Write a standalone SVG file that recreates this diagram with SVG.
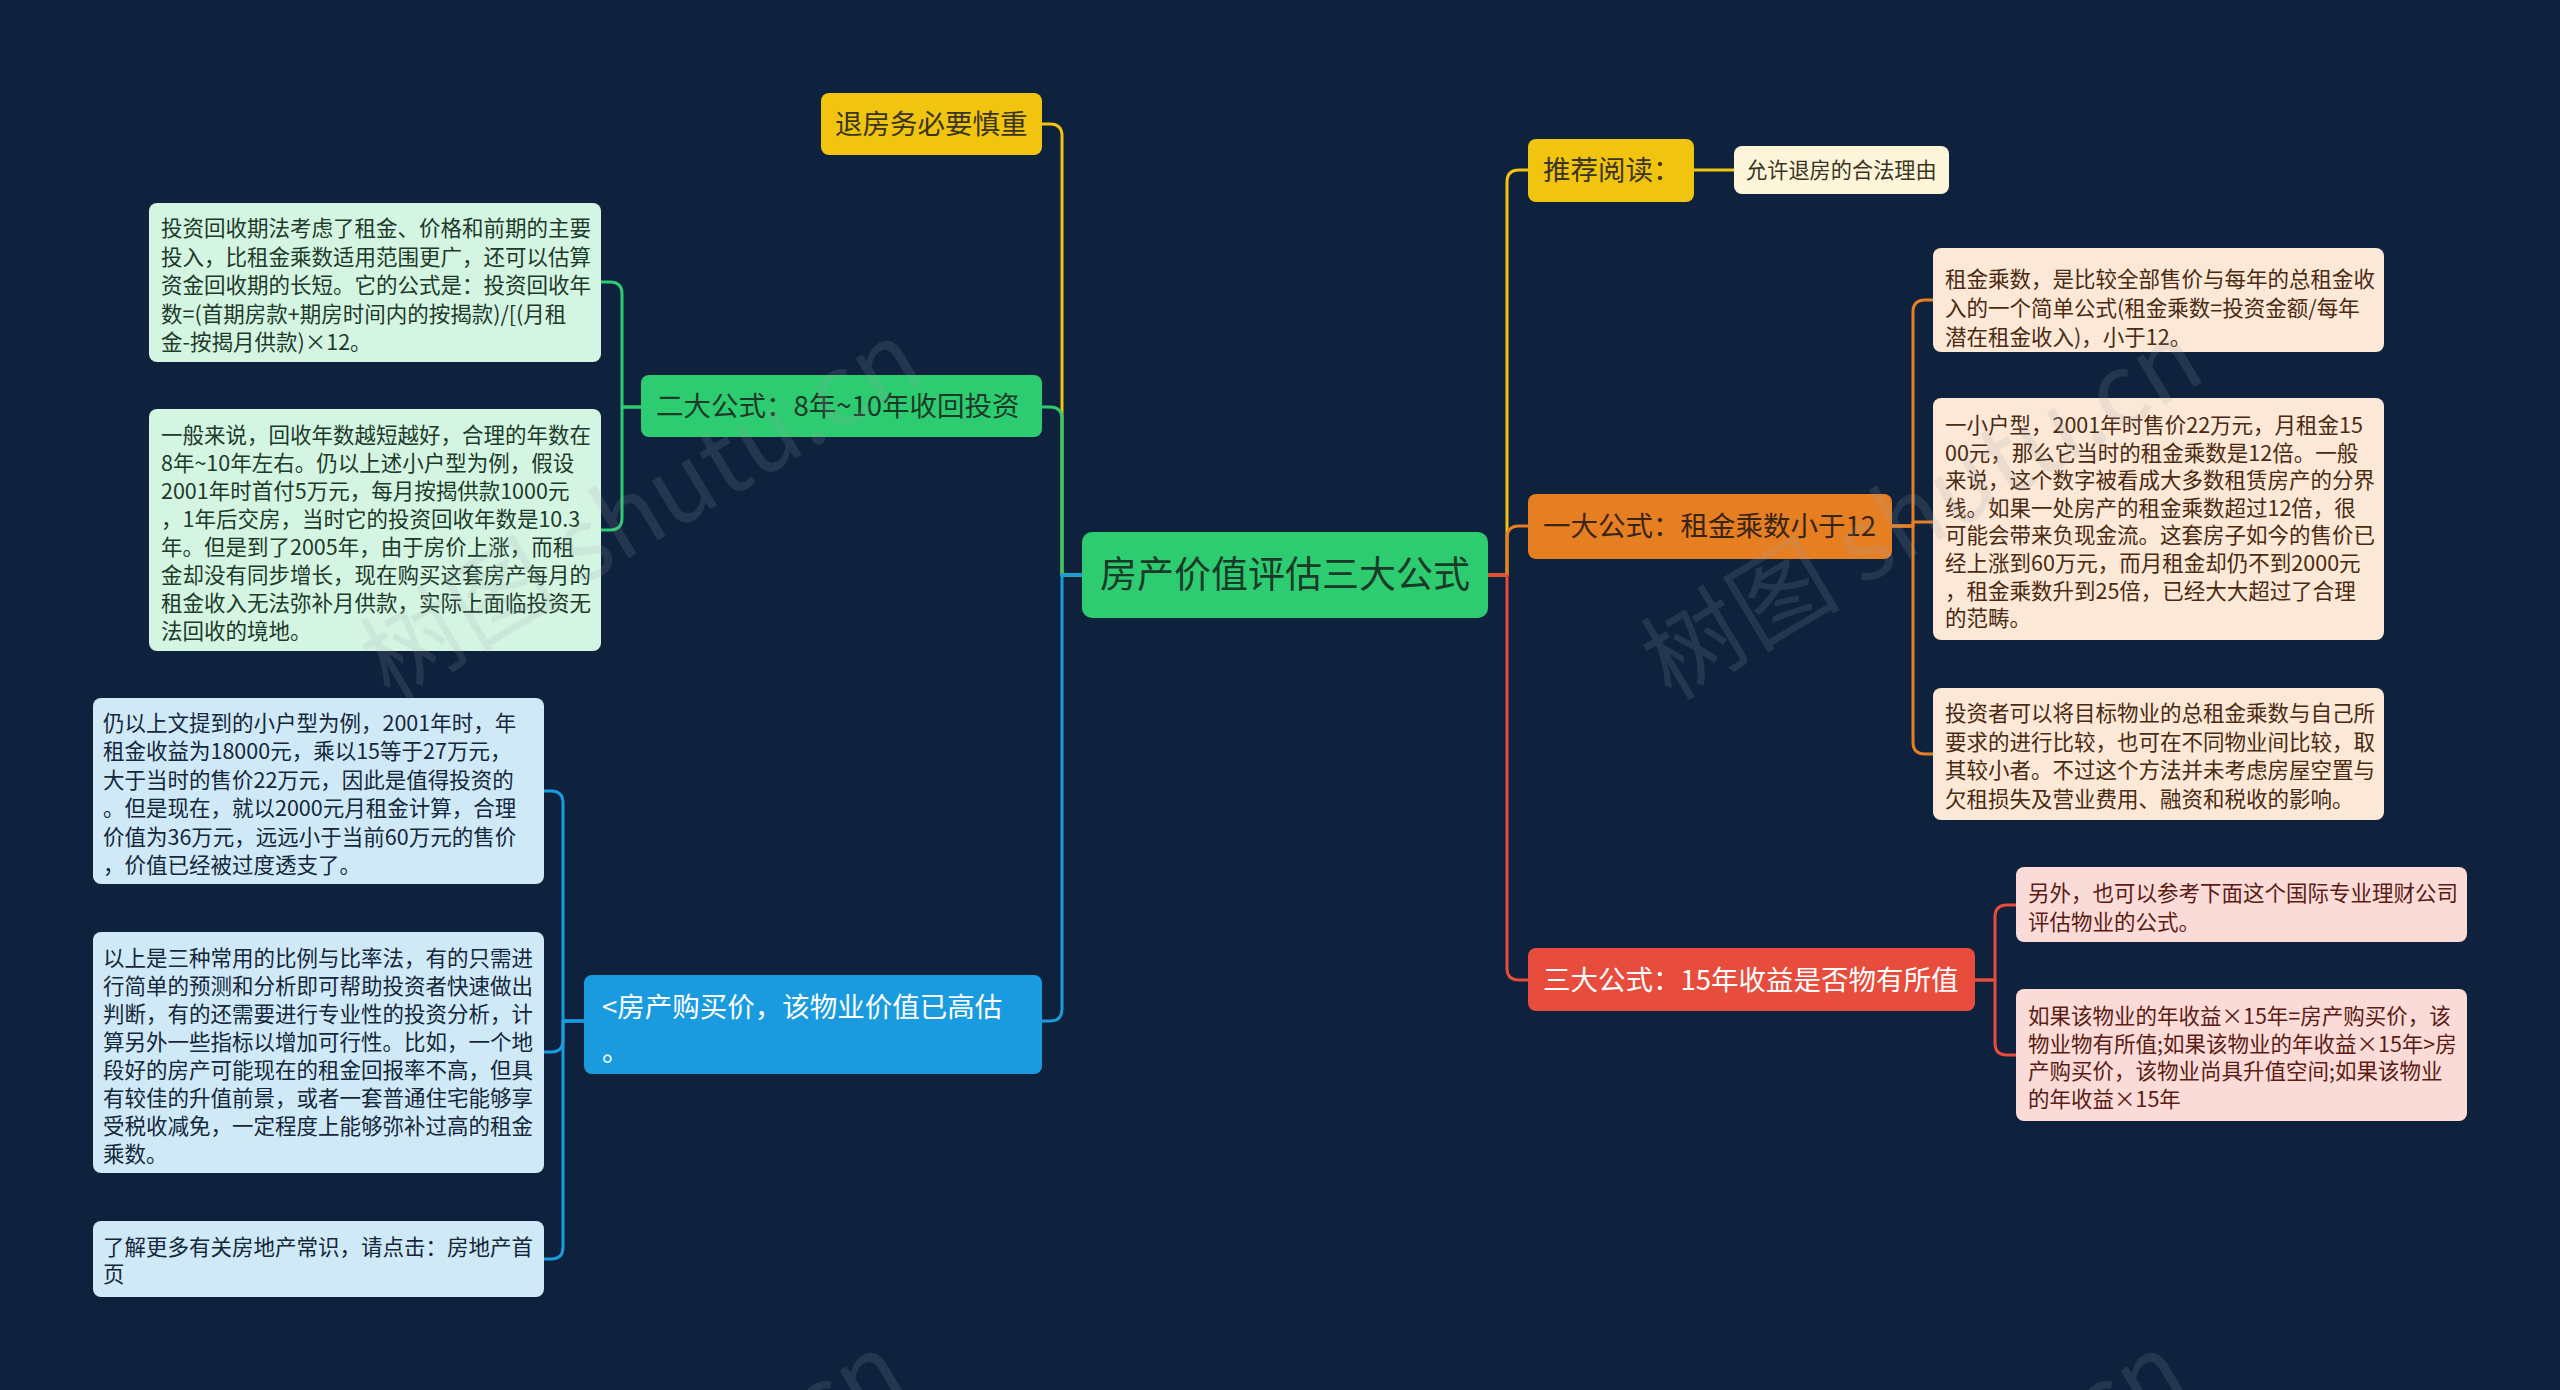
<svg xmlns="http://www.w3.org/2000/svg" width="2560" height="1390" viewBox="0 0 2560 1390">
<style>
text{font-family:"Noto Sans CJK SC","Noto Sans",sans-serif;}
.conn{fill:none;stroke-width:3;stroke-linejoin:round;stroke-linecap:round;}
.main{font-size:27.5px;}
.small{font-size:21.5px;}
.wm{font-size:100px;fill:#9aa3ad;opacity:0.16;}
</style>
<rect x="0" y="0" width="2560" height="1390" fill="#0f223d"/>

<g id="connectors">
  <path class="conn" stroke="#f1c40f" d="M1082,575 H1062 V136 Q1062,124 1050,124 H1042"/>
  <path class="conn" stroke="#2ecc71" d="M1082,575 H1062 V419 Q1062,407 1050,407 H1042"/>
  <path class="conn" stroke="#1a9be0" d="M1082,575 H1062 V1009 Q1062,1021 1050,1021 H1042"/>
  <path class="conn" stroke="#f1c40f" d="M1488,575 H1507 V182 Q1507,170 1519,170 H1528"/>
  <path class="conn" stroke="#e67e22" d="M1488,575 H1507 V538 Q1507,526 1519,526 H1528"/>
  <path class="conn" stroke="#e74c3c" d="M1488,575 H1507 V968 Q1507,980 1519,980 H1528"/>
  <path class="conn" stroke="#f1c40f" d="M1694,170 H1734"/>
  <path class="conn" stroke="#e67e22" d="M1892,526 H1913 V312 Q1913,300 1925,300 H1933"/>
  <path class="conn" stroke="#e67e22" d="M1892,526 H1913 V522 H1933"/>
  <path class="conn" stroke="#e67e22" d="M1892,526 H1913 V742 Q1913,754 1925,754 H1933"/>
  <path class="conn" stroke="#e74c3c" d="M1975,980 H1995 V917 Q1995,905 2007,905 H2016"/>
  <path class="conn" stroke="#e74c3c" d="M1975,980 H1995 V1043 Q1995,1055 2007,1055 H2016"/>
  <path class="conn" stroke="#2ecc71" d="M641,407 H622 V294 Q622,282 610,282 H601"/>
  <path class="conn" stroke="#2ecc71" d="M641,407 H622 V518 Q622,530 610,530 H601"/>
  <path class="conn" stroke="#1a9be0" d="M584,1021 H563 V803 Q563,791 551,791 H544"/>
  <path class="conn" stroke="#1a9be0" d="M584,1021 H563 V1040 Q563,1052 551,1052 H544"/>
  <path class="conn" stroke="#1a9be0" d="M584,1021 H563 V1247 Q563,1259 551,1259 H544"/>
</g>

<g id="root">
  <rect x="1082" y="532" width="406" height="86" rx="10" fill="#2ecc71"/>
  <text x="1285" y="588" font-size="37" text-anchor="middle" fill="#1a3a28">房产价值评估三大公式</text>
</g>

<g id="n-tuifang">
  <rect x="821" y="93" width="221" height="62" rx="8" fill="#f1c40f"/>
  <text class="main" x="835" y="134" fill="#3a3522">退房务必要慎重</text>
</g>

<g id="n-erda">
  <rect x="641" y="375" width="401" height="62" rx="8" fill="#2ecc71"/>
  <text class="main" x="656" y="416" fill="#1a3a28">二大公式：8年~10年收回投资</text>
</g>

<g id="n-fangchan">
  <rect x="584" y="975" width="458" height="99" rx="8" fill="#1a9be0"/>
  <text class="main" x="602" y="1017" fill="#ffffff">&lt;房产购买价，该物业价值已高估</text>
  <text class="main" x="602" y="1061" fill="#ffffff">。</text>
</g>

<g id="n-g1">
  <rect x="149" y="203" width="452" height="159" rx="8" fill="#d5f5e3"/>
  <text class="small" fill="#1d3a2a">
    <tspan x="161" y="236">投资回收期法考虑了租金、价格和前期的主要</tspan>
    <tspan x="161" y="264.5">投入，比租金乘数适用范围更广，还可以估算</tspan>
    <tspan x="161" y="293">资金回收期的长短。它的公式是：投资回收年</tspan>
    <tspan x="161" y="321.5">数=(首期房款+期房时间内的按揭款)/[(月租</tspan>
    <tspan x="161" y="350">金-按揭月供款)×12。</tspan>
  </text>
</g>

<g id="n-g2">
  <rect x="149" y="409" width="452" height="242" rx="8" fill="#d5f5e3"/>
  <text class="small" fill="#1d3a2a">
    <tspan x="161" y="443">一般来说，回收年数越短越好，合理的年数在</tspan>
    <tspan x="161" y="471">8年~10年左右。仍以上述小户型为例，假设</tspan>
    <tspan x="161" y="499">2001年时首付5万元，每月按揭供款1000元</tspan>
    <tspan x="161" y="527">，1年后交房，当时它的投资回收年数是10.3</tspan>
    <tspan x="161" y="555">年。但是到了2005年，由于房价上涨，而租</tspan>
    <tspan x="161" y="583">金却没有同步增长，现在购买这套房产每月的</tspan>
    <tspan x="161" y="611">租金收入无法弥补月供款，实际上面临投资无</tspan>
    <tspan x="161" y="639">法回收的境地。</tspan>
  </text>
</g>

<g id="n-b1">
  <rect x="93" y="698" width="451" height="186" rx="8" fill="#cfe9f7"/>
  <text class="small" fill="#15273a">
    <tspan x="103" y="731">仍以上文提到的小户型为例，2001年时，年</tspan>
    <tspan x="103" y="759.4">租金收益为18000元，乘以15等于27万元，</tspan>
    <tspan x="103" y="787.8">大于当时的售价22万元，因此是值得投资的</tspan>
    <tspan x="103" y="816.2">。但是现在，就以2000元月租金计算，合理</tspan>
    <tspan x="103" y="844.6">价值为36万元，远远小于当前60万元的售价</tspan>
    <tspan x="103" y="873">，价值已经被过度透支了。</tspan>
  </text>
</g>

<g id="n-b2">
  <rect x="93" y="932" width="451" height="241" rx="8" fill="#cfe9f7"/>
  <text class="small" fill="#15273a">
    <tspan x="103" y="966">以上是三种常用的比例与比率法，有的只需进</tspan>
    <tspan x="103" y="994">行简单的预测和分析即可帮助投资者快速做出</tspan>
    <tspan x="103" y="1022">判断，有的还需要进行专业性的投资分析，计</tspan>
    <tspan x="103" y="1050">算另外一些指标以增加可行性。比如，一个地</tspan>
    <tspan x="103" y="1078">段好的房产可能现在的租金回报率不高，但具</tspan>
    <tspan x="103" y="1106">有较佳的升值前景，或者一套普通住宅能够享</tspan>
    <tspan x="103" y="1134">受税收减免，一定程度上能够弥补过高的租金</tspan>
    <tspan x="103" y="1162">乘数。</tspan>
  </text>
</g>

<g id="n-b3">
  <rect x="93" y="1221" width="451" height="76" rx="8" fill="#cfe9f7"/>
  <text class="small" fill="#15273a">
    <tspan x="103" y="1255">了解更多有关房地产常识，请点击：房地产首</tspan>
    <tspan x="103" y="1282">页</tspan>
  </text>
</g>

<g id="n-tuijian">
  <rect x="1528" y="139" width="166" height="63" rx="8" fill="#f1c40f"/>
  <text class="main" x="1543" y="180" fill="#3a3522">推荐阅读：</text>
</g>

<g id="n-yunxu">
  <rect x="1734" y="146" width="215" height="48" rx="8" fill="#fdf5d9"/>
  <text x="1746" y="178" font-size="21.2" fill="#3a3522">允许退房的合法理由</text>
</g>

<g id="n-yida">
  <rect x="1528" y="494" width="364" height="65" rx="8" fill="#e67e22"/>
  <text class="main" x="1543" y="536" fill="#3a2414">一大公式：租金乘数小于12</text>
</g>

<g id="n-o1">
  <rect x="1933" y="248" width="451" height="104" rx="8" fill="#fbe8d6"/>
  <text class="small" fill="#4a2a12">
    <tspan x="1945" y="287">租金乘数，是比较全部售价与每年的总租金收</tspan>
    <tspan x="1945" y="316">入的一个简单公式(租金乘数=投资金额/每年</tspan>
    <tspan x="1945" y="345">潜在租金收入)，小于12。</tspan>
  </text>
</g>

<g id="n-o2">
  <rect x="1933" y="398" width="451" height="242" rx="8" fill="#fbe8d6"/>
  <text class="small" fill="#4a2a12">
    <tspan x="1945" y="433">一小户型，2001年时售价22万元，月租金15</tspan>
    <tspan x="1945" y="460.6">00元，那么它当时的租金乘数是12倍。一般</tspan>
    <tspan x="1945" y="488.2">来说，这个数字被看成大多数租赁房产的分界</tspan>
    <tspan x="1945" y="515.8">线。如果一处房产的租金乘数超过12倍，很</tspan>
    <tspan x="1945" y="543.4">可能会带来负现金流。这套房子如今的售价已</tspan>
    <tspan x="1945" y="571">经上涨到60万元，而月租金却仍不到2000元</tspan>
    <tspan x="1945" y="598.6">，租金乘数升到25倍，已经大大超过了合理</tspan>
    <tspan x="1945" y="626.2">的范畴。</tspan>
  </text>
</g>

<g id="n-o3">
  <rect x="1933" y="688" width="451" height="132" rx="8" fill="#fbe8d6"/>
  <text class="small" fill="#4a2a12">
    <tspan x="1945" y="721">投资者可以将目标物业的总租金乘数与自己所</tspan>
    <tspan x="1945" y="749.7">要求的进行比较，也可在不同物业间比较，取</tspan>
    <tspan x="1945" y="778.4">其较小者。不过这个方法并未考虑房屋空置与</tspan>
    <tspan x="1945" y="807">欠租损失及营业费用、融资和税收的影响。</tspan>
  </text>
</g>

<g id="n-sanda">
  <rect x="1528" y="948" width="447" height="63" rx="8" fill="#e74c3c"/>
  <text class="main" x="1543" y="990" fill="#ffffff">三大公式：15年收益是否物有所值</text>
</g>

<g id="n-r1">
  <rect x="2016" y="867" width="451" height="75" rx="8" fill="#fadbd8"/>
  <text class="small" fill="#5a1c14">
    <tspan x="2028" y="901">另外，也可以参考下面这个国际专业理财公司</tspan>
    <tspan x="2028" y="930">评估物业的公式。</tspan>
  </text>
</g>

<g id="n-r2">
  <rect x="2016" y="989" width="451" height="132" rx="8" fill="#fadbd8"/>
  <text class="small" fill="#5a1c14">
    <tspan x="2028" y="1024">如果该物业的年收益×15年=房产购买价，该</tspan>
    <tspan x="2028" y="1051.7">物业物有所值;如果该物业的年收益×15年&gt;房</tspan>
    <tspan x="2028" y="1079.4">产购买价，该物业尚具升值空间;如果该物业</tspan>
    <tspan x="2028" y="1107">的年收益×15年</tspan>
  </text>
</g>

<g id="watermarks">
  <text class="wm" x="641" y="545" text-anchor="middle" transform="rotate(-31 641 510)">树图 shutu.cn</text>
  <text class="wm" x="1922" y="545" text-anchor="middle" transform="rotate(-31 1922 510)">树图 shutu.cn</text>
  <text class="wm" x="625" y="1557" text-anchor="middle" transform="rotate(-31 625 1522)">树图 shutu.cn</text>
  <text class="wm" x="1906" y="1557" text-anchor="middle" transform="rotate(-31 1906 1522)">树图 shutu.cn</text>
</g>
</svg>
